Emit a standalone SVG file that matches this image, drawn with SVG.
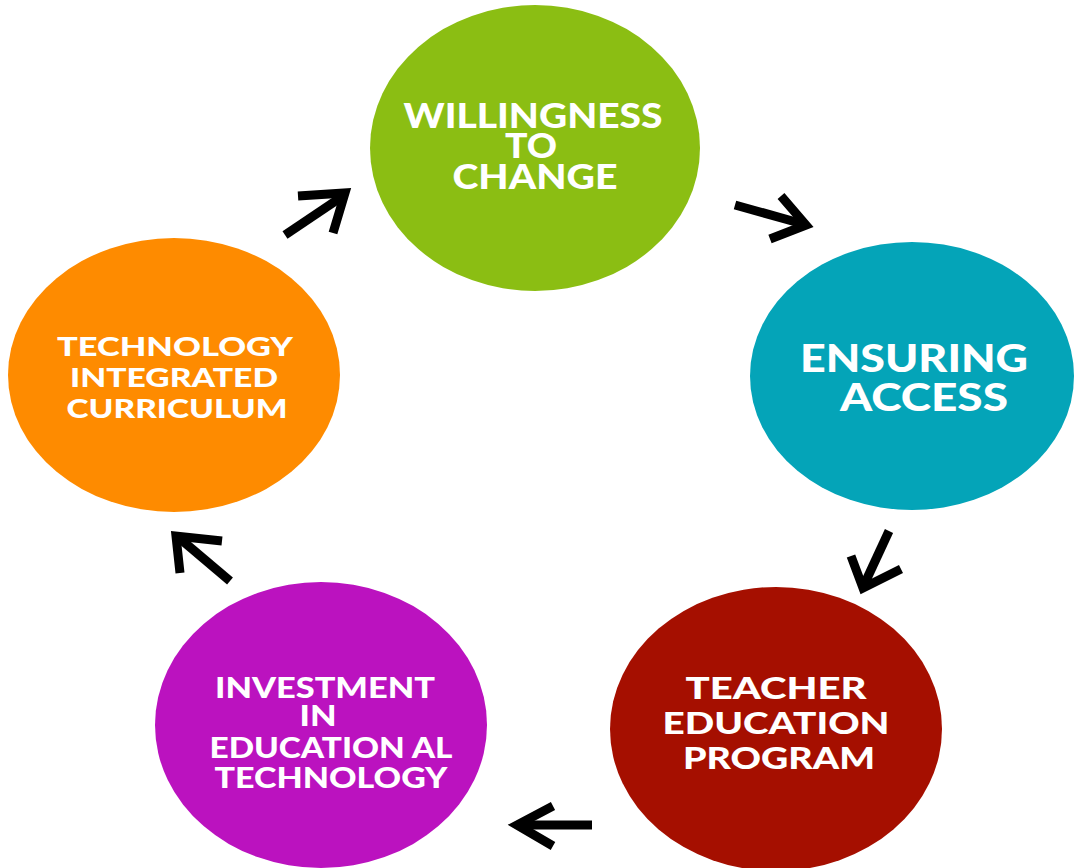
<svg xmlns="http://www.w3.org/2000/svg" width="1074" height="868" viewBox="0 0 1074 868">
  <style>
    .label { font-family: "Lato", "Open Sans", "Liberation Sans", sans-serif; font-weight: 900; fill: #ffffff; text-anchor: middle; }
    .arrow { fill: none; stroke: #000000; stroke-width: 9; stroke-linejoin: miter; stroke-miterlimit: 10; }
  </style>
  <rect width="1074" height="868" fill="#ffffff"/>

  <!-- cycle connectors -->
  <g id="connectors">
    <g id="arrow-curriculum-willingness">
      <line class="arrow" x1="285" y1="235" x2="343" y2="196"/>
      <polyline class="arrow" points="298,196 345,193 333,233"/>
    </g>
    <g id="arrow-willingness-access">
      <line class="arrow" x1="735" y1="205" x2="803" y2="224"/>
      <polyline class="arrow" points="781,196 806,225 770,239"/>
    </g>
    <g id="arrow-access-teacher">
      <line class="arrow" x1="889" y1="531" x2="864" y2="585"/>
      <polyline class="arrow" points="851,556 863,588 901,569"/>
    </g>
    <g id="arrow-teacher-investment">
      <line class="arrow" x1="592" y1="825" x2="518" y2="825"/>
      <polyline class="arrow" points="553,806 517,825 553,846"/>
    </g>
    <g id="arrow-investment-curriculum">
      <line class="arrow" x1="230" y1="581" x2="178" y2="537"/>
      <polyline class="arrow" points="222,541 176,536 180,573"/>
    </g>
  </g>

  <g id="node-willingness">
    <ellipse cx="535" cy="148" rx="165" ry="143" fill="#8bbe13"/>
    <text class="label" font-size="34"><tspan x="533" y="128" textLength="259" lengthAdjust="spacingAndGlyphs">WILLINGNESS</tspan><tspan x="531" y="158" textLength="52" lengthAdjust="spacingAndGlyphs">TO</tspan><tspan x="535" y="189" textLength="165" lengthAdjust="spacingAndGlyphs">CHANGE</tspan></text>
  </g>

  <g id="node-access">
    <ellipse cx="912" cy="376" rx="162" ry="134" fill="#04a4b8"/>
    <text class="label" font-size="37"><tspan x="914" y="372" textLength="228" lengthAdjust="spacingAndGlyphs">ENSURING</tspan><tspan x="924" y="411" textLength="168" lengthAdjust="spacingAndGlyphs">ACCESS</tspan></text>
  </g>

  <g id="node-teacher">
    <ellipse cx="776" cy="729" rx="166" ry="142" fill="#a50f00"/>
    <text class="label" font-size="31"><tspan x="776" y="699" textLength="181" lengthAdjust="spacingAndGlyphs">TEACHER</tspan><tspan x="776" y="734" textLength="227" lengthAdjust="spacingAndGlyphs">EDUCATION</tspan><tspan x="779" y="769" textLength="192" lengthAdjust="spacingAndGlyphs">PROGRAM</tspan></text>
  </g>

  <g id="node-investment">
    <ellipse cx="321" cy="725" rx="166" ry="143" fill="#bb12bf"/>
    <text class="label" font-size="29"><tspan x="325" y="698" textLength="220" lengthAdjust="spacingAndGlyphs">INVESTMENT</tspan><tspan x="318" y="726" textLength="37" lengthAdjust="spacingAndGlyphs">IN</tspan><tspan x="331" y="758" textLength="243" lengthAdjust="spacingAndGlyphs">EDUCATION AL</tspan><tspan x="331" y="788" textLength="233" lengthAdjust="spacingAndGlyphs">TECHNOLOGY</tspan></text>
  </g>

  <g id="node-curriculum">
    <ellipse cx="174" cy="375" rx="166" ry="137" fill="#fe8b00"/>
    <text class="label" font-size="26"><tspan x="175" y="356" textLength="236" lengthAdjust="spacingAndGlyphs">TECHNOLOGY</tspan><tspan x="174" y="387" textLength="208" lengthAdjust="spacingAndGlyphs">INTEGRATED</tspan><tspan x="177" y="418" textLength="221" lengthAdjust="spacingAndGlyphs">CURRICULUM</tspan></text>
  </g>
</svg>
